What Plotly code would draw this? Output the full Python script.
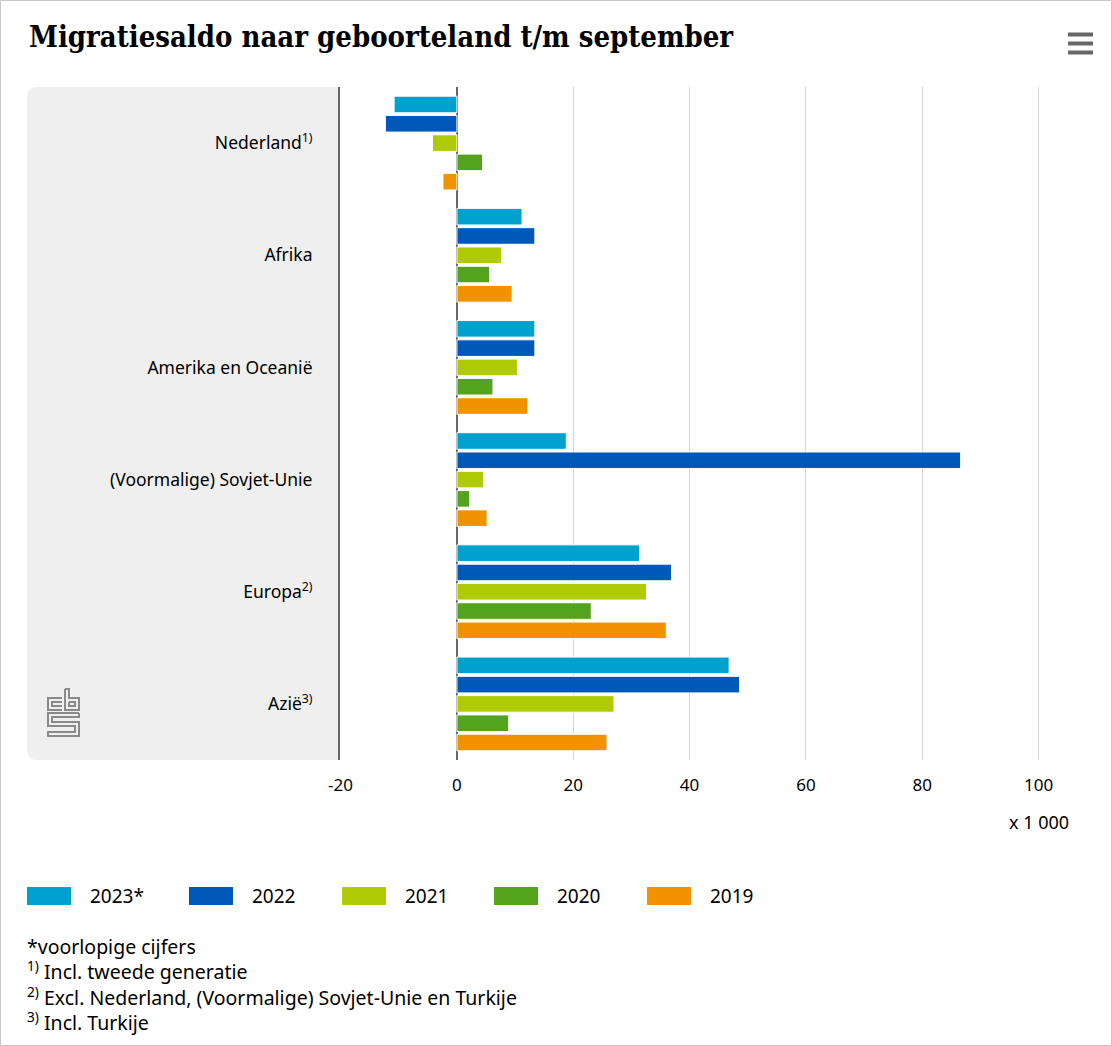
import plotly.graph_objects as go

categories = ["Nederland<sup>1)</sup>", "Afrika", "Amerika en Oceanië",
              "(Voormalige) Sovjet-Unie", "Europa<sup>2)</sup>", "Azië<sup>3)</sup>"]
series_names = ["2023*", "2022", "2021", "2020", "2019"]
v2023 = [-10.8, 11.2, 13.4, 18.8, 31.4, 46.8]
v2022 = [-12.3, 13.4, 13.4, 86.6, 36.9, 48.6]
v2021 = [-4.2, 7.7, 10.4, 4.6, 32.6, 27.0]
v2020 = [4.4, 5.6, 6.2, 2.2, 23.1, 8.9]
v2019 = [-2.4, 9.5, 12.2, 5.2, 36.0, 25.8]
series_values = [v2023, v2022, v2021, v2020, v2019]
colors = ["#00a1cd", "#0058b8", "#afcb05", "#53a31d", "#f39200"]
x_ticks = [-20, 0, 20, 40, 60, 80, 100]
x_tick_labels = ["-20", "0", "20", "40", "60", "80", "100"]
footnote_marks = ["", "1)", "2)", "3)"]
footnote_texts = ["*voorlopige cijfers",
                  "Incl. tweede generatie",
                  "Excl. Nederland, (Voormalige) Sovjet-Unie en Turkije",
                  "Incl. Turkije"]

W, H = 1112, 1046
L, R, T, B = 340, 1070, 87, 760
FONT = "Noto Sans, Open Sans, sans-serif"


def px(x):
    return (x - L) / (R - L)


def py(y):
    return (B - y) / (B - T)


fig = go.Figure()
for name, vals, col in zip(series_names, series_values, colors):
    fig.add_trace(go.Bar(
        y=categories, x=vals, name=name, orientation="h",
        marker=dict(color=col, line=dict(color="white", width=1)),
        showlegend=False,
    ))

shapes = []
# grey background of category label area (rounded left corners)
r = 10
x0, x1, y0, y1 = 27, 340, 87, 760
path = (f"M {px(x1)},{py(y0)} L {px(x0 + r)},{py(y0)} "
        f"Q {px(x0)},{py(y0)} {px(x0)},{py(y0 + r)} "
        f"L {px(x0)},{py(y1 - r)} Q {px(x0)},{py(y1)} {px(x0 + r)},{py(y1)} "
        f"L {px(x1)},{py(y1)} Z")
shapes.append(dict(type="path", path=path, xref="paper", yref="paper",
                   fillcolor="#efefef", line=dict(width=0), layer="below"))
# outer border
shapes.append(dict(type="rect", xref="paper", yref="paper",
                   x0=px(0.5), x1=px(W - 0.5), y0=py(0.5), y1=py(H - 0.5),
                   line=dict(color="#c8c8c8", width=1), layer="below"))
# hamburger icon
for yy in [34.5, 43.5, 52.5]:
    shapes.append(dict(type="line", xref="paper", yref="paper",
                       x0=px(1068), x1=px(1093), y0=py(yy), y1=py(yy),
                       line=dict(color="#666666", width=4)))
# cbs logo (approximate, line drawing)
lc = dict(color="#8a8a8a", width=2)
logo_paths = [
    [(62, 698), (48, 698), (48, 710), (62, 710)],
    [(62, 702), (52, 702), (52, 706), (62, 706)],
    [(65, 689), (65, 710), (79, 710), (79, 698), (69, 698), (69, 689), (65, 689)],
    [(69, 702), (75, 702), (75, 706), (69, 706), (69, 702)],
    [(79, 713), (48, 713), (48, 726), (75, 726), (75, 732), (48, 732), (48, 736), (79, 736), (79, 722), (52, 722), (52, 717), (79, 717), (79, 713)],
]
for pts in logo_paths:
    d = "M " + " L ".join(f"{px(a)},{py(b)}" for a, b in pts)
    shapes.append(dict(type="path", path=d, xref="paper", yref="paper",
                       line=lc, fillcolor="rgba(0,0,0,0)"))

annotations = []
annotations.append(dict(text="<b>Migratiesaldo naar geboorteland t/m september</b>",
                        xref="paper", yref="paper", x=px(27), y=py(37),
                        xanchor="left", yanchor="middle", showarrow=False,
                        font=dict(family="DejaVu Serif Condensed, serif", size=29, color="#000")))
annotations.append(dict(text="x 1 000", xref="paper", yref="paper",
                        x=px(1071), y=py(822), xanchor="right", yanchor="middle",
                        showarrow=False, font=dict(family=FONT, size=18, color="#000")))
# legend
leg_x = [27, 189, 342, 494, 647]
for lx, name, col in zip(leg_x, series_names, colors):
    shapes.append(dict(type="rect", xref="paper", yref="paper",
                       x0=px(lx), x1=px(lx + 44), y0=py(887), y1=py(905),
                       fillcolor=col, line=dict(width=0)))
    annotations.append(dict(text=name, xref="paper", yref="paper",
                            x=px(lx + 61), y=py(896), xanchor="left", yanchor="middle",
                            showarrow=False, font=dict(family=FONT, size=19, color="#000")))
# footnotes (one block, one line each)
lines = []
for mk, fn in zip(footnote_marks, footnote_texts):
    lines.append(f"<sup>{mk}</sup> {fn}" if mk else fn)
annotations.append(dict(text="<br>".join(lines), xref="paper", yref="paper",
                        x=px(25), y=py(931), xanchor="left", yanchor="top",
                        align="left", showarrow=False,
                        font=dict(family=FONT, size=19.5, color="#000")))

fig.update_layout(
    width=W, height=H,
    margin=dict(l=L, r=W - R, t=T, b=H - B),
    paper_bgcolor="white", plot_bgcolor="white",
    barmode="group", bargap=0.14, bargroupgap=0.14,
    font=dict(family=FONT, size=16, color="#000"),
    xaxis=dict(range=[-20.1, 105.4], tickvals=x_ticks, ticktext=x_tick_labels,
               showgrid=True, gridcolor="#d6d6d6", gridwidth=1,
               zeroline=True, zerolinecolor="#666666", zerolinewidth=2,
               ticks="outside", ticklen=10, tickcolor="rgba(0,0,0,0)",
               tickfont=dict(size=17, color="#000"), fixedrange=True),
    yaxis=dict(autorange="reversed", showline=True, linecolor="#666666", linewidth=2,
               ticks="outside", ticklen=22, tickcolor="rgba(0,0,0,0)",
               tickfont=dict(size=17.5, color="#000"), showgrid=False),
    shapes=shapes, annotations=annotations,
)

fig.write_html("out.html")
